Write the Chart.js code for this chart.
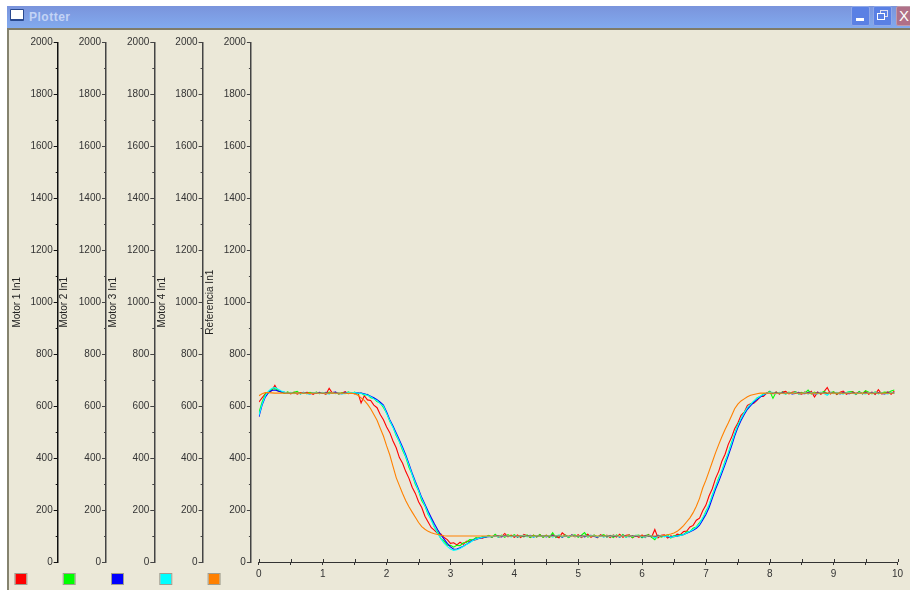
<!DOCTYPE html>
<html>
<head>
<meta charset="utf-8">
<title>Plotter</title>
<script src="https://cdn.jsdelivr.net/npm/chart.js@4"></script>
<style>
  html, body { margin: 0; padding: 0; background: #fff; width: 910px; height: 590px; overflow: hidden; }
  #win { position: absolute; left: 7px; top: 6px; width: 903px; height: 584px; background: #ebe8d8; }
  #titlebar { position: absolute; left: 0; top: 0; width: 903px; height: 22px; background: linear-gradient(#7a94dc, #82aaee); border-bottom: 2px solid #7f7c68; }
  #leftedge { position: absolute; left: 0; top: 24px; width: 2px; height: 560px; background: #85836f; }
  #icon { position: absolute; left: 3px; top: 3px; width: 12px; height: 9px; background: #fff; border: 1px solid #2a4a90; border-bottom-width: 2px; border-radius: 1px; }
  #name { position: absolute; left: 22px; top: 4px; font: bold 12px "Liberation Sans", Arial, sans-serif; letter-spacing: .5px; color: #c3d3f5; }
  .btn { position: absolute; top: 0; width: 17px; height: 18px; border: 1px solid #8fa8e8; border-radius: 2px; background: #5a80e4; color: #fff; }
  #cvs { position: absolute; left: 0; top: 0; filter: blur(0.35px); }
  #wrap { position: absolute; left: 0; top: 0; width: 910px; height: 590px; }
</style>
</head>
<body>
<div id="win">
  <div id="titlebar">
    <div id="icon"></div>
    <div id="name">Plotter</div>
    <div class="btn" style="left:844px"><div style="position:absolute;left:4px;top:11px;width:8px;height:3px;background:#fff"></div></div>
    <div class="btn" style="left:866px"><div style="position:absolute;left:6px;top:3px;width:6px;height:5px;border:1px solid #dde"></div><div style="position:absolute;left:3px;top:6px;width:6px;height:5px;border:1px solid #fff;background:#5a80e4"></div></div>
    <div class="btn" style="left:889px;width:14px;background:#b07088;border-color:#c09aa8;font:15px/18px 'Liberation Sans',sans-serif;text-align:center;overflow:hidden">X</div>
  </div>
  <div id="leftedge"></div>
</div>
<div id="wrap"><canvas id="cvs" width="910" height="590"></canvas></div>
<script>
const times = [
  0,0.05,0.1,0.15,0.2,0.25,0.3,0.35,0.4,0.45,
  0.5,0.55,0.6,0.65,0.7,0.75,0.8,0.85,0.9,0.95,
  1,1.05,1.1,1.15,1.2,1.25,1.3,1.35,1.4,1.45,
  1.5,1.55,1.6,1.65,1.7,1.75,1.8,1.85,1.9,1.95,
  2,2.05,2.1,2.15,2.2,2.25,2.3,2.35,2.4,2.45,
  2.5,2.55,2.6,2.65,2.7,2.75,2.8,2.85,2.9,2.95,
  3,3.05,3.1,3.15,3.2,3.25,3.3,3.35,3.4,3.45,
  3.5,3.55,3.6,3.65,3.7,3.75,3.8,3.85,3.9,3.95,
  4,4.05,4.1,4.15,4.2,4.25,4.3,4.35,4.4,4.45,
  4.5,4.55,4.6,4.65,4.7,4.75,4.8,4.85,4.9,4.95,
  5,5.05,5.1,5.15,5.2,5.25,5.3,5.35,5.4,5.45,
  5.5,5.55,5.6,5.65,5.7,5.75,5.8,5.85,5.9,5.95,
  6,6.05,6.1,6.15,6.2,6.25,6.3,6.35,6.4,6.45,
  6.5,6.55,6.6,6.65,6.7,6.75,6.8,6.85,6.9,6.95,
  7,7.05,7.1,7.15,7.2,7.25,7.3,7.35,7.4,7.45,
  7.5,7.55,7.6,7.65,7.7,7.75,7.8,7.85,7.9,7.95,
  8,8.05,8.1,8.15,8.2,8.25,8.3,8.35,8.4,8.45,
  8.5,8.55,8.6,8.65,8.7,8.75,8.8,8.85,8.9,8.95,
  9,9.05,9.1,9.15,9.2,9.25,9.3,9.35,9.4,9.45,
  9.5,9.55,9.6,9.65,9.7,9.75,9.8,9.85,9.9,9.95
];

const motor1 = [
  616,632,648,652,660,680,658,655,650,653,
  647,654,646,652,649,653,651,645,653,650,
  651,646,669,650,653,647,650,656,648,652,
  647,652,612,640,624,622,604,594,568,548,
  520,498,466,440,402,380,348,322,288,264,
  232,210,176,154,132,122,110,108,94,86,
  72,74,66,76,68,80,80,84,86,94,
  92,96,102,95,104,96,98,110,97,103,
  95,104,94,106,101,95,103,97,105,96,
  103,95,105,97,93,112,102,95,104,97,
  105,94,102,107,95,103,93,105,97,103,
  94,104,96,107,95,103,105,93,102,95,
  104,94,106,96,125,93,103,105,92,101,
  97,107,105,117,119,135,141,161,169,197,
  219,255,282,321,349,388,415,453,479,513,
  535,565,577,603,609,611,622,637,637,650,
  657,647,655,646,654,657,647,653,656,648,
  646,655,647,657,635,654,646,656,672,647,
  655,645,654,658,646,653,656,645,655,647,
  657,646,654,645,663,647,650,655,646,658
];
const motor2 = [
  575,615,645,655,665,668,660,655,649,655,
  649,653,657,647,652,648,653,650,654,648,
  652,648,654,650,653,647,652,648,655,649,
  654,647,650,642,645,632,630,618,612,595,
  574,542,520,487,464,430,404,365,337,299,
  274,237,216,184,164,134,115,90,80,65,
  64,57,64,63,74,75,86,85,94,91,
  98,95,102,95,107,96,103,95,105,98,
  105,96,100,97,104,94,103,96,106,95,
  102,95,113,94,103,96,104,94,102,105,
  95,103,113,96,100,104,97,101,105,96,
  102,94,104,96,106,95,103,94,102,104,
  93,102,105,95,86,103,96,100,104,92,
  102,99,106,105,116,117,130,135,152,167,
  195,217,257,287,324,349,388,417,458,492,
  528,549,576,591,608,617,632,637,648,649,
  657,630,654,648,655,646,654,648,656,647,
  653,650,662,647,654,648,651,657,649,652,
  655,647,650,648,652,656,654,646,657,648,
  660,654,647,655,648,651,654,652,658,662
];
const motor3 = [
  559,604,635,652,660,662,658,655,653,649,
  652,649,652,648,653,650,647,652,649,653,
  649,653,648,652,654,649,648,653,651,649,
  652,650,650,648,644,638,632,625,615,604,
  578,548,524,497,470,442,412,378,342,310,
  280,248,222,195,170,146,124,104,88,72,
  58,49,50,55,61,68,76,84,88,91,
  94,96,97,98,100,101,97,102,99,98,
  101,97,102,98,100,103,96,101,98,102,
  97,101,103,98,102,96,101,98,104,99,
  98,102,97,101,103,98,96,102,99,97,
  102,98,101,96,103,99,97,102,98,101,
  97,102,98,101,96,103,99,100,97,96,
  98,100,102,106,111,116,122,130,142,162,
  183,210,245,280,310,342,375,410,445,485,
  518,545,568,588,602,615,625,635,643,650,
  653,649,652,648,653,649,652,647,649,653,
  649,648,653,652,647,653,649,652,648,653,
  649,652,647,653,649,648,652,649,653,648,
  652,649,653,648,652,649,647,653,649,652
];
const motor4 = [
  565,608,640,658,668,672,665,658,654,650,
  653,648,652,647,652,648,647,652,652,648,
  653,649,647,652,648,652,647,649,653,652,
  652,650,649,646,642,636,628,621,610,600,
  572,544,518,490,463,435,405,372,336,304,
  274,243,217,186,160,134,110,90,73,60,
  50,45,47,52,60,67,74,83,88,92,
  95,97,99,97,101,96,102,98,101,97,
  102,98,101,103,97,101,96,102,98,101,
  98,102,96,101,104,98,101,97,102,98,
  101,97,103,98,102,101,97,101,96,102,
  98,103,101,97,102,96,101,98,103,101,
  98,96,102,101,92,98,102,97,101,95,
  98,100,102,106,112,118,125,134,148,170,
  192,222,256,290,320,352,385,420,456,494,
  526,552,575,594,607,620,630,638,645,650,
  654,652,648,653,649,647,652,649,654,647,
  649,653,647,652,649,647,654,649,642,652,
  648,653,649,647,652,654,649,647,652,649,
  647,652,649,654,647,652,649,647,653,649
];
const referencia = [
  640,648,652,652,651,650,650,650,650,650,
  650,650,651,650,650,650,649,650,650,650,
  650,650,650,651,650,650,650,650,649,650,
  648,642,632,622,608,590,568,546,515,485,
  447,412,368,325,294,264,236,213,192,172,
  152,136,126,118,113,109,106,103,101,100,
  100,100,100,100,100,100,100,100,100,100,
  100,100,100,100,100,100,100,100,100,100,
  100,100,100,100,100,100,100,100,100,100,
  100,100,100,100,100,100,100,100,100,100,
  100,100,100,100,100,100,100,100,100,100,
  100,100,100,100,100,100,100,100,100,100,
  100,100,100,100,100,100,100,102,105,108,
  112,118,128,140,155,170,190,215,245,285,
  315,350,385,420,452,482,510,535,562,590,
  608,620,628,636,642,645,648,650,650,650,
  650,650,650,650,650,650,650,650,650,650,
  650,650,650,650,650,650,650,650,650,650,
  650,650,650,650,650,650,650,650,650,650,
  650,650,650,650,650,650,650,650,650,650
];

const seriesNames = ['Motor 1 In1', 'Motor 2 In1', 'Motor 3 In1', 'Motor 4 In1', 'Referencia In1'];
const seriesValues = [motor1, motor2, motor3, motor4, referencia];
const seriesColors = ['#ff0000', '#00ff00', '#0000ff', '#00ffff', '#ff8000'];
const axisColors = ['#111111', '#444444', '#444444', '#444444', '#444444'];
const titleOffsets = [2, 1, 1, 2, 2];
const minorY = [100, 300, 500, 700, 900, 1100, 1300, 1500, 1700, 1900];

const tickMarks = {
  id: 'tickMarks',
  afterDraw(chart) {
    const ctx = chart.ctx;
    ctx.save();
    ctx.lineWidth = 1;
    seriesNames.forEach((name, i) => {
      const scale = chart.scales['y' + i];
      // minor ticks are shorter than the labelled ones
      ctx.strokeStyle = axisColors[i];
      minorY.forEach(v => {
        const y = Math.round(scale.getPixelForValue(v)) + 0.5;
        ctx.beginPath();
        ctx.moveTo(scale.right - 2, y);
        ctx.lineTo(scale.right, y);
        ctx.stroke();
      });
      // colour key under each axis
      ctx.fillStyle = seriesColors[i];
      ctx.fillRect(scale.left + 6, 574, 11, 10);
      ctx.strokeStyle = '#a09e90';
      ctx.strokeRect(scale.left + 5.5, 573.5, 12, 11);
    });
    // x ticks cross the axis line
    const xs = chart.scales.x;
    ctx.strokeStyle = '#333333';
    xs.ticks.forEach(t => {
      const x = Math.round(xs.getPixelForValue(t.value)) + 0.5;
      ctx.beginPath();
      ctx.moveTo(x, xs.top - 3);
      ctx.lineTo(x, xs.top);
      ctx.stroke();
    });
    ctx.restore();
  }
};

const scales = {
  x: {
    type: 'linear',
    min: 0,
    max: 10,
    afterFit: s => { s.height = 28; },
    border: { color: '#333333', width: 1 },
    grid: { drawOnChartArea: false, tickLength: 3, color: '#333333' },
    ticks: {
      stepSize: 0.5,
      autoSkip: false,
      maxRotation: 0,
      padding: 3,
      color: '#333333',
      font: { family: 'Liberation Sans', size: 10 },
      callback: v => Number.isInteger(v) ? String(v) : ''
    }
  },
  // empty axis, keeps x=0 a little to the right of the last y axis
  spacer: {
    type: 'linear',
    axis: 'y',
    position: 'left',
    weight: 0,
    afterFit: s => { s.width = 8; },
    border: { display: false },
    grid: { display: false },
    ticks: { display: false }
  }
};

seriesNames.forEach((name, i) => {
  scales['y' + i] = {
    type: 'linear',
    axis: 'y',
    position: 'left',
    weight: 5 - i,
    min: 0,
    max: 2000,
    afterFit: s => { s.width = 48.3; },
    title: {
      display: true,
      text: name,
      color: '#222222',
      font: { family: 'Liberation Sans', size: 10 },
      padding: { top: titleOffsets[i], bottom: 0 }
    },
    border: { color: axisColors[i], width: 1.5 },
    grid: { drawOnChartArea: false, tickLength: 4, color: axisColors[i] },
    ticks: {
      stepSize: 200,
      padding: 1,
      color: '#333333',
      font: { family: 'Liberation Sans', size: 10 },
      callback: v => String(v)
    }
  };
});

new Chart(document.getElementById('cvs'), {
  type: 'line',
  data: {
    datasets: seriesNames.map((name, i) => ({
      label: name,
      yAxisID: 'y' + i,
      data: times.map((t, k) => ({ x: t, y: seriesValues[i][k] })),
      borderColor: seriesColors[i],
      borderWidth: 1.1,
      pointRadius: 0,
      tension: 0,
      order: 5 - i
    }))
  },
  options: {
    responsive: false,
    animation: false,
    layout: { autoPadding: false, padding: { left: 9.4, top: 42.5, right: 12.5, bottom: 0 } },
    plugins: { legend: { display: false }, tooltip: { enabled: false } },
    scales
  },
  plugins: [tickMarks]
});
</script>
</body>
</html>
